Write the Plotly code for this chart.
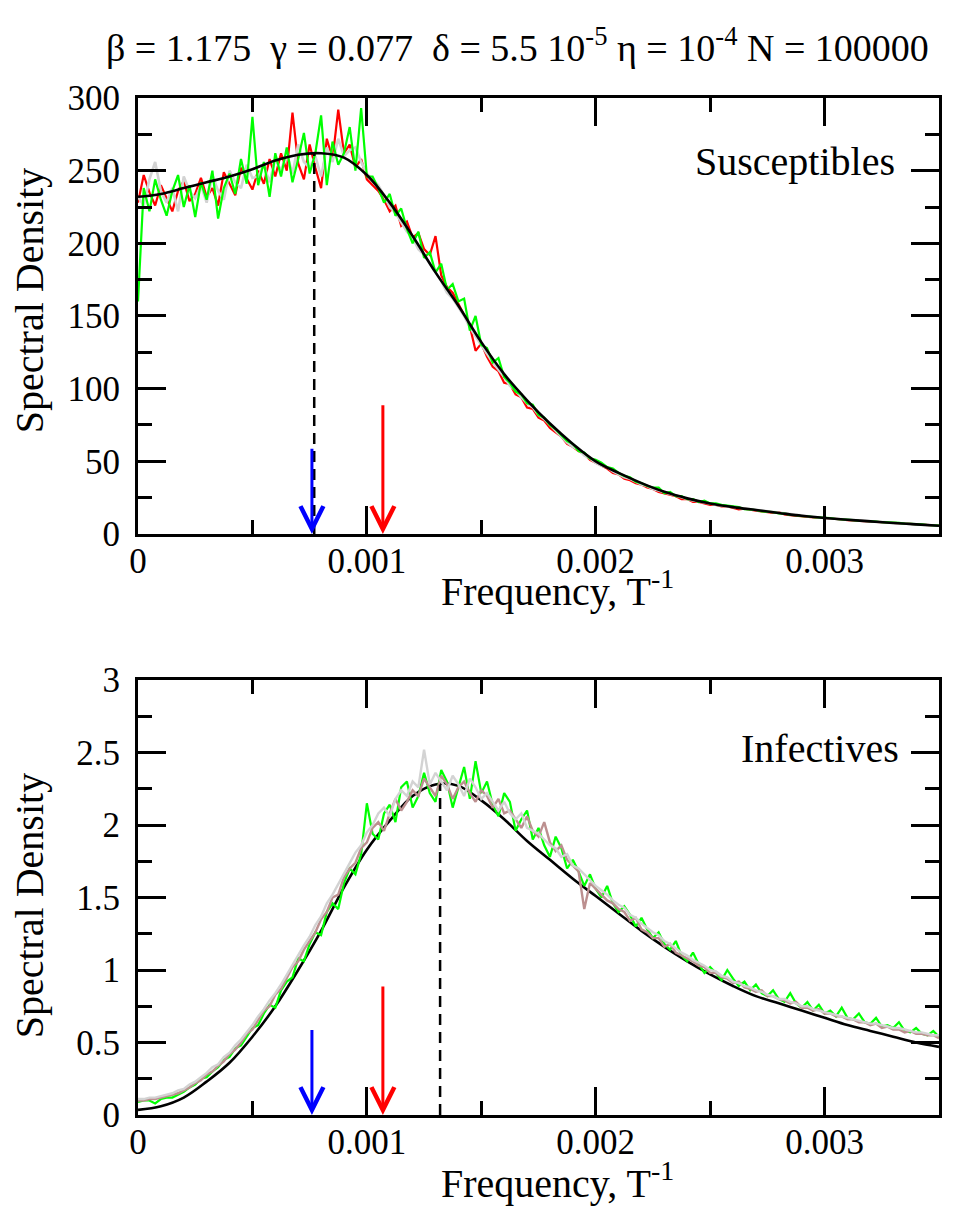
import plotly.graph_objects as go

# ---------------- data ----------------
# fine frequency grid (step 0.000025) for the simulated spectra
freq_fine = [k * 0.000025 for k in range(141)]
# coarse grid (step 0.0001) for the analytic curves
freq_theory = [k * 0.0001 for k in range(36)]

# Susceptibles panel
S_theory = [232, 234, 238, 242, 246, 251, 257, 261, 262, 259, 247, 228, 205, 180, 157, 132,
            110, 92, 76, 62, 50, 42, 35, 29, 24.5, 21, 18.5, 16.5, 14.5, 12.5, 11, 9.8, 8.7,
            7.6, 6.6, 5.7]

S_red = [228, 247, 235, 226, 240, 231, 222, 236, 243, 229, 234,
         245, 232, 238, 226, 249, 241, 233, 252, 244, 237,
         250, 241, 258, 246, 262, 250, 290, 255, 244, 268,
         252, 238, 272, 258, 292, 262, 268, 252, 258, 244,
         240, 236, 230, 222, 226, 212, 215, 204, 207, 196,
         192, 205, 178, 170, 166, 158, 150, 143, 126, 131,
         122, 115, 112, 104, 103, 96, 94, 87, 86, 80,
         78, 73, 70, 67, 62, 60, 57, 55, 51, 49,
         47, 45, 42, 41, 38, 37, 35, 34, 32, 31,
         29, 28, 27, 26, 24, 24, 22, 22, 21, 20,
         20, 19, 19, 18, 17, 17.5, 16.5, 16, 15.5, 15,
         14.5, 15, 13.5, 13, 12.5, 12, 12, 11.5, 11, 11,
         10.5, 10.2, 10, 9.6, 9.4, 9, 8.8, 8.6, 8.3, 8,
         7.8, 7.6, 7.4, 7.1, 6.9, 6.6, 6.4, 6.1, 5.9, 5.7]

S_green = [160, 238, 222, 244, 230, 219, 236, 247, 225, 240, 218,
           242, 230, 250, 217, 238, 248, 234, 258, 241, 287,
           240, 256, 232, 262, 246, 266, 242, 258, 276, 248,
           262, 288, 240, 270, 254, 262, 280, 250, 293, 246,
           246, 238, 228, 234, 219, 224, 210, 200, 208, 190,
           194, 180, 186, 168, 172, 160, 162, 140, 150, 130,
           128, 118, 121, 108, 104, 98, 96, 90, 89, 82,
           80, 75, 72, 68, 64, 62, 57, 56, 52, 51,
           49, 46, 45, 42, 40, 39, 36, 35, 33, 32,
           32, 28, 29, 26, 26, 24, 24, 22, 23, 21,
           21, 20, 19.5, 18.5, 18.5, 17, 17, 16.5, 15.5, 15.5,
           15, 14.2, 14, 13.2, 13, 12.2, 12.2, 11.6, 11.5, 11,
           11, 10.3, 10.2, 9.8, 9.6, 9.1, 9.1, 8.6, 8.6, 8.1,
           8, 7.6, 7.6, 7.1, 7.1, 6.7, 6.6, 6.2, 6.1, 5.8]

S_gray = [232, 226, 244, 256, 236, 228, 238, 222, 246, 236, 231,
          240, 228, 247, 236, 230, 250, 242, 238, 254, 245,
          246, 254, 242, 258, 250, 262, 248, 268, 256, 252,
          260, 246, 266, 256, 272, 260, 264, 266, 256, 248,
          244, 240, 233, 225, 221, 214, 208, 204, 196, 192,
          186, 180, 174, 166, 162, 156, 150, 142, 136, 130,
          124, 118, 113, 108, 102, 99, 94, 90, 87, 82,
          79, 75, 71, 67, 63, 60, 58, 54, 52, 49,
          47, 46, 43, 41, 39, 38, 36, 34, 33, 31,
          30, 28.5, 27.5, 26.5, 25, 24, 23, 22.5, 21.5, 21,
          20, 19.5, 19, 18.5, 18, 17.5, 17, 16.5, 16, 15.5,
          15, 14.5, 14, 13.5, 13, 12.5, 12, 11.7, 11.3, 11,
          10.7, 10.4, 10.1, 9.8, 9.5, 9.2, 9, 8.7, 8.4, 8.1,
          7.9, 7.6, 7.4, 7.1, 6.9, 6.6, 6.4, 6.2, 5.9, 5.7]

# Infectives panel
I_theory = [0.035, 0.06, 0.12, 0.23, 0.36, 0.54, 0.75, 1.00, 1.27, 1.57, 1.83, 2.03, 2.2,
            2.28, 2.27, 2.17, 2.04, 1.89, 1.76, 1.63, 1.51, 1.39, 1.27, 1.16, 1.06, 0.97,
            0.89, 0.82, 0.77, 0.72, 0.67, 0.62, 0.58, 0.54, 0.50, 0.47]

I_green = [.09, .10, .10, .08, .11, .12, .12, .14, .16, .19, .21,
           .25, .26, .30, .33, .38, .40, .46, .48, .54, .60,
           .62, .70, .76, .74, .86, .92, .95, 1.08, 1.06, 1.18,
           1.26, 1.24, 1.40, 1.46, 1.42, 1.60, 1.70, 1.66, 1.80, 2.15,
           1.94, 1.90, 2.08, 2.14, 2.02, 2.26, 2.30, 2.12, 2.20, 2.36,
           2.22, 2.16, 2.38, 2.30, 2.12, 2.26, 2.40, 2.18, 2.44, 2.22,
           2.30, 2.14, 2.06, 2.22, 2.16, 1.96, 2.04, 2.10, 1.90, 1.98,
           1.86, 1.78, 1.92, 1.84, 1.70, 1.76, 1.68, 1.58, 1.66, 1.56,
           1.50, 1.58, 1.46, 1.40, 1.44, 1.38, 1.30, 1.36, 1.28, 1.22,
           1.26, 1.18, 1.14, 1.20, 1.10, 1.06, 1.12, 1.04, 0.98, 1.02,
           0.98, 0.93, 1.00, 0.94, 0.89, 0.92, 0.86, 0.90, 0.84, 0.82,
           0.86, 0.80, 0.78, 0.84, 0.77, 0.74, 0.78, 0.72, 0.76, 0.70,
           0.72, 0.68, 0.74, 0.67, 0.66, 0.70, 0.64, 0.63, 0.67, 0.61,
           0.62, 0.60, 0.64, 0.58, 0.57, 0.60, 0.56, 0.55, 0.58, 0.54]

I_brown = [.10, .10, .11, .11, .12, .13, .14, .15, .17, .19, .22,
           .24, .28, .30, .34, .37, .42, .45, .50, .56, .59,
           .66, .72, .75, .83, .87, .95, 1.02, 1.06, 1.14, 1.20,
           1.26, 1.35, 1.40, 1.50, 1.52, 1.64, 1.70, 1.74, 1.84, 1.88,
           1.98, 2.02, 1.96, 2.08, 2.18, 2.10, 2.16, 2.24, 2.20, 2.32,
           2.26, 2.20, 2.34, 2.28, 2.18, 2.26, 2.30, 2.22, 2.16, 2.24,
           2.20, 2.12, 2.18, 2.08, 2.10, 2.04, 1.98, 2.06, 1.96, 1.92,
           2.02, 1.88, 1.82, 1.86, 1.76, 1.72, 1.68, 1.42, 1.60, 1.56,
           1.52, 1.48, 1.46, 1.42, 1.40, 1.34, 1.36, 1.28, 1.26, 1.22,
           1.22, 1.16, 1.18, 1.12, 1.10, 1.08, 1.06, 1.03, 1.02, 0.98,
           0.98, 0.95, 0.94, 0.91, 0.92, 0.88, 0.87, 0.85, 0.86, 0.82,
           0.82, 0.80, 0.79, 0.77, 0.78, 0.74, 0.74, 0.72, 0.73, 0.70,
           0.70, 0.68, 0.68, 0.66, 0.66, 0.64, 0.64, 0.62, 0.63, 0.60,
           0.61, 0.59, 0.59, 0.57, 0.58, 0.56, 0.56, 0.55, 0.55, 0.53]

I_gray = [.11, .11, .12, .12, .13, .14, .15, .17, .18, .21, .23,
          .26, .29, .33, .35, .40, .43, .48, .52, .57, .62,
          .68, .73, .79, .84, .90, .97, 1.03, 1.10, 1.17, 1.23,
          1.31, 1.37, 1.46, 1.52, 1.59, 1.67, 1.73, 1.81, 1.86, 1.95,
          2.00, 2.08, 2.12, 2.06, 2.18, 2.24, 2.20, 2.30, 2.26, 2.52,
          2.28, 2.36, 2.30, 2.24, 2.34, 2.28, 2.20, 2.32, 2.26, 2.18,
          2.22, 2.16, 2.10, 2.16, 2.08, 2.04, 2.08, 1.98, 1.96, 1.94,
          1.90, 1.86, 1.84, 1.78, 1.80, 1.72, 1.70, 1.66, 1.62, 1.58,
          1.55, 1.52, 1.48, 1.45, 1.43, 1.38, 1.36, 1.32, 1.29, 1.26,
          1.24, 1.20, 1.18, 1.15, 1.12, 1.10, 1.07, 1.05, 1.03, 1.00,
          0.99, 0.96, 0.95, 0.92, 0.91, 0.89, 0.88, 0.86, 0.85, 0.83,
          0.82, 0.80, 0.80, 0.78, 0.77, 0.75, 0.75, 0.73, 0.72, 0.71,
          0.70, 0.69, 0.68, 0.67, 0.66, 0.65, 0.64, 0.63, 0.63, 0.62,
          0.61, 0.60, 0.60, 0.59, 0.58, 0.57, 0.57, 0.56, 0.55, 0.55]

# markers: arrows (frequency, start height) and dashed peak lines
blue_arrow_freq = 0.00076
red_arrow_freq = 0.00107
S_arrow_tops = {"blue": 60, "red": 90}
I_arrow_tops = {"blue": 0.6, "red": 0.9}
S_peak = (0.00077, 262)
I_peak = (0.00132, 2.28)

title_text = "β = 1.175  γ = 0.077  δ = 5.5 10<sup>-5</sup> η = 10<sup>-4</sup> N = 100000"
x_title = "Frequency, T<sup>-1</sup>"
y_title = "Spectral Density"

# ---------------- figure ----------------
FONT = "Liberation Serif, Times New Roman, serif"
fig = go.Figure()


def line_trace(x, y, color, width, xa, ya, shape="linear", dash="solid"):
    fig.add_trace(go.Scatter(x=x, y=y, mode="lines",
                             line=dict(color=color, width=width, shape=shape, dash=dash),
                             xaxis=xa, yaxis=ya, showlegend=False, hoverinfo="skip"))


# top panel
line_trace(freq_fine, S_red, "#ff0000", 2.2, "x", "y")
line_trace(freq_fine, S_gray, "#d3d3d3", 2.6, "x", "y")
line_trace(freq_fine, S_green, "#00ff00", 2.2, "x", "y")
line_trace(freq_theory, S_theory, "black", 2.6, "x", "y", shape="spline")
line_trace([S_peak[0], S_peak[0]], [0, S_peak[1]], "black", 2.5, "x", "y", dash="11px,7px")

# bottom panel
line_trace(freq_theory, I_theory, "black", 2.6, "x2", "y2", shape="spline")
line_trace(freq_fine, I_green, "#00ff00", 2.2, "x2", "y2")
line_trace(freq_fine, I_brown, "#bc8f8f", 2.4, "x2", "y2")
line_trace(freq_fine, I_gray, "#d3d3d3", 2.4, "x2", "y2")
line_trace([I_peak[0], I_peak[0]], [0, I_peak[1]], "black", 2.5, "x2", "y2", dash="11px,7px")

annotations = []
for xa, ya, tops in (("x", "y", S_arrow_tops), ("x2", "y2", I_arrow_tops)):
    for col, fx in (("blue", blue_arrow_freq), ("red", red_arrow_freq)):
        annotations.append(dict(x=fx, y=0, ax=fx, ay=tops[col], xref=xa, yref=ya,
                                axref=xa, ayref=ya, showarrow=True, arrowhead=5,
                                arrowsize=1.5, arrowwidth=3, standoff=0,
                                arrowcolor="#0000ff" if col == "blue" else "#ff0000",
                                text=" ", font=dict(size=1)))

label_font = dict(family=FONT, size=40, color="black")
annotations.append(dict(x=0.00287, y=256, xref="x", yref="y", text="Susceptibles",
                        showarrow=False, font=label_font))
annotations.append(dict(x=0.00298, y=2.53, xref="x2", yref="y2", text="Infectives",
                        showarrow=False, font=label_font))
annotations.append(dict(x=0.474, y=1.052, xref="paper", yref="paper", text=title_text,
                        showarrow=False, yanchor="middle",
                        font=dict(family=FONT, size=38, color="black")))
# axis titles as free annotations (paper coordinates of the plotting region)
for ypos in (0.518, -0.064):
    annotations.append(dict(x=0.524, y=ypos, xref="paper", yref="paper", text=x_title,
                            showarrow=False, yanchor="middle", font=label_font))
for ypos in (0.801, 0.206):
    annotations.append(dict(x=-0.135, y=ypos, xref="paper", yref="paper", text=y_title,
                            textangle=-90, showarrow=False, xanchor="center",
                            yanchor="middle", font=label_font))

tickfont = dict(family=FONT, size=35, color="black")


def xaxis_cfg(anchor):
    return dict(range=[0, 0.0035], tick0=0, dtick=0.001, ticks="inside", ticklen=28,
                tickwidth=2.5, tickcolor="black", showline=True, linewidth=3,
                linecolor="black", mirror="allticks", showgrid=False, zeroline=False,
                tickfont=tickfont, automargin=False, ticklabelstandoff=-6,
                minor=dict(dtick=0.0005, tick0=0, ticks="inside", ticklen=14, tickwidth=2.5,
                           tickcolor="black", showgrid=False),
                anchor=anchor)


def yaxis_cfg(rng, dt, anchor, domain):
    return dict(range=rng, dtick=dt, tick0=0, ticks="inside", ticklen=28, tickwidth=2.5,
                tickcolor="black", showline=True, linewidth=3, linecolor="black",
                mirror="allticks", showgrid=False, zeroline=False, tickfont=tickfont,
                ticklabelstandoff=8, automargin=False,
                minor=dict(dtick=dt / 2, tick0=0, ticks="inside", ticklen=14, tickwidth=2.5,
                           tickcolor="black", showgrid=False),
                anchor=anchor, domain=domain)


# the page body adds an 8px offset, so the figure is 8px smaller on each axis
fig.update_layout(
    width=970, height=1199,
    margin=dict(l=130, r=39, t=90, b=92),
    paper_bgcolor="white", plot_bgcolor="white",
    showlegend=False,
    xaxis=xaxis_cfg("y"),
    yaxis=yaxis_cfg([0, 300], 50, "x", [0.5713, 1.0]),
    xaxis2=xaxis_cfg("y2"),
    yaxis2=yaxis_cfg([0, 3], 0.5, "x2", [0.0, 0.4277]),
    annotations=annotations,
)

fig.write_html("out.html")
